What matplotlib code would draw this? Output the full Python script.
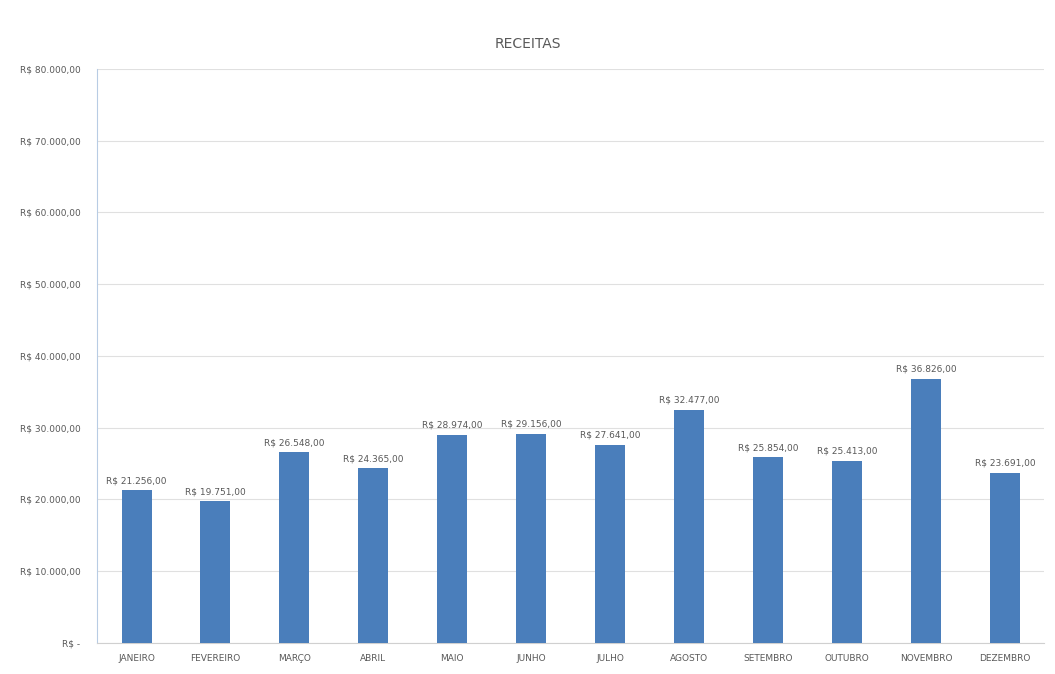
import matplotlib
matplotlib.use("Agg")
import matplotlib.pyplot as plt
from matplotlib.ticker import FuncFormatter

months = ["JANEIRO", "FEVEREIRO", "MARÇO", "ABRIL", "MAIO", "JUNHO",
          "JULHO", "AGOSTO", "SETEMBRO", "OUTUBRO", "NOVEMBRO", "DEZEMBRO"]
receitas = [21256, 19751, 26548, 24365, 28974, 29156,
            27641, 32477, 25854, 25413, 36826, 23691]
yticks = [0, 10000, 20000, 30000, 40000, 50000, 60000, 70000, 80000]


def brl(v):
    if v == 0:
        return "R$ -"
    s = f"{v:,.2f}".replace(",", "X").replace(".", ",").replace("X", ".")
    return "R$ " + s


fig = plt.figure(figsize=(10.55, 6.74), dpi=100)
ax = fig.add_axes([0.092, 0.046, 0.898, 0.852])
x = list(range(len(months)))
ax.bar(x, receitas, width=0.38, color="#4a7ebb", zorder=3)
for xi, v in zip(x, receitas):
    ax.text(xi, v + 700, brl(v), ha="center", va="bottom", fontsize=6.5,
            color="#595959", zorder=4)

ax.set_ylim(0, 80000)
ax.set_xlim(-0.5, len(months) - 0.5)
ax.set_yticks(yticks)
ax.yaxis.set_major_formatter(FuncFormatter(lambda v, p: brl(v)))
ax.set_xticks(x)
ax.set_xticklabels(months)
ax.tick_params(axis="both", labelsize=6.5, colors="#595959", length=0)
ax.tick_params(axis="y", pad=12)
ax.tick_params(axis="x", pad=8)
ax.grid(axis="y", color="#e0e0e0", linewidth=0.8, zorder=0)
for s in ["top", "right"]:
    ax.spines[s].set_visible(False)
ax.spines["left"].set_color("#b8cce4")
ax.spines["bottom"].set_color("#d0d0d0")
fig.text(0.5, 0.935, "RECEITAS", ha="center", va="center", fontsize=10,
         color="#595959")
fig.savefig("out.png", dpi=100, facecolor="white")
